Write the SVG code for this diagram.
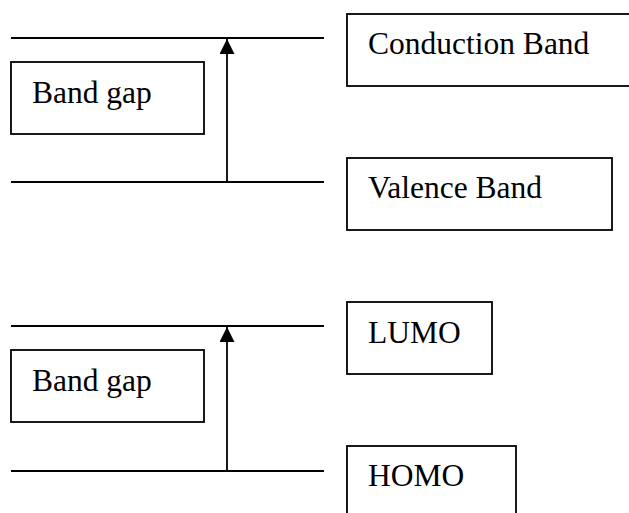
<svg xmlns="http://www.w3.org/2000/svg" width="629" height="513" viewBox="0 0 629 513">
<style>
.box{fill:#fff;stroke:#000;stroke-width:1.8}
.ln{stroke:#000;stroke-width:1.8;fill:none}
.t{font-family:"Liberation Serif","Times New Roman",serif;font-size:31.5px;fill:#000}
</style>
<defs>
<marker id="ah" markerWidth="15" markerHeight="15" viewBox="0 0 15 15" refX="15" refY="7.5" orient="auto" markerUnits="userSpaceOnUse">
<path d="M0,0 L15,7.5 L0,15 Z" fill="#000"/>
</marker>
</defs>
<rect width="629" height="513" fill="#fff"/>
<g id="connectors">
<line class="ln" x1="11" y1="38" x2="324" y2="38"/>
<line class="ln" x1="11" y1="182" x2="324" y2="182"/>
<line class="ln" x1="227" y1="182" x2="227" y2="39" marker-end="url(#ah)"/>
<line class="ln" x1="11" y1="326" x2="324" y2="326"/>
<line class="ln" x1="11" y1="471" x2="324" y2="471"/>
<line class="ln" x1="227" y1="471" x2="227" y2="327" marker-end="url(#ah)"/>
</g>
<g id="bandgap1">
<rect class="box" x="11" y="62" width="193" height="72"/>
<text class="t" x="32" y="103">Band gap</text>
</g>
<g id="conduction">
<rect class="box" x="347" y="14" width="290" height="72"/>
<text class="t" x="368" y="54">Conduction Band</text>
</g>
<g id="valence">
<rect class="box" x="347" y="158" width="265" height="72"/>
<text class="t" x="368" y="198">Valence Band</text>
</g>
<g id="bandgap2">
<rect class="box" x="11" y="350" width="193" height="72"/>
<text class="t" x="32" y="391">Band gap</text>
</g>
<g id="lumo">
<rect class="box" x="347" y="302" width="145" height="72"/>
<text class="t" x="368" y="343">LUMO</text>
</g>
<g id="homo">
<rect class="box" x="347" y="446" width="169" height="80"/>
<text class="t" x="368" y="486">HOMO</text>
</g>
</svg>
